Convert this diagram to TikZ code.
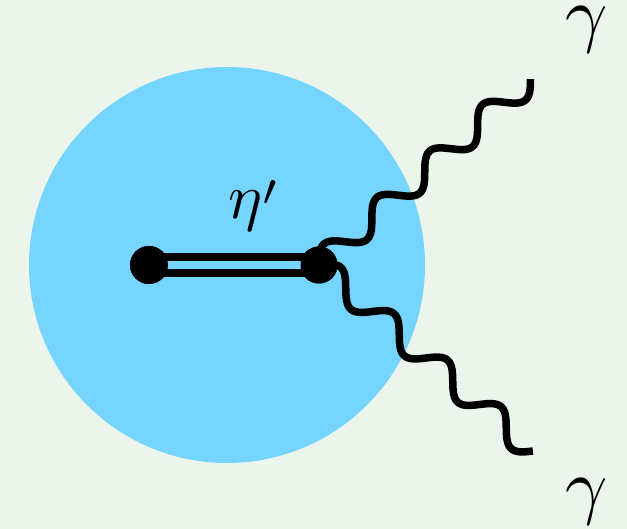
\documentclass[tikz,border=0pt]{standalone}
\usetikzlibrary{calc}
\definecolor{bgcol}{HTML}{EBF5EC}
\definecolor{blobcol}{HTML}{76D5FF}
\tikzset{
  photon/.style={line width=7.5pt},
  meson/.style={line width=8pt, double=blobcol, double distance=8.5pt},
  vertexdot/.style={circle, fill=black, inner sep=0pt, minimum size=#1},
  biglabel/.style={inner sep=0pt, scale=7.4},
  midlabel/.style={inner sep=0pt, scale=6.4}
}
\newcommand{\photonline}[2]{%
  \draw[photon] let \p1=(#1), \p2=(#2), \n1={veclen(\x2-\x1,\y2-\y1)} in
    plot[domain=0:1, samples=241, smooth, variable=\t]
    ({\x1+(\x2-\x1)*\t-12.5*sin(1440*\t)*(\y2-\y1)/\n1},
     {\y1+(\y2-\y1)*\t+12.5*sin(1440*\t)*(\x2-\x1)/\n1});}
\begin{document}
\begin{tikzpicture}[x=1pt,y=-1pt]
  \fill[bgcol] (0,0) rectangle (627,529);
  \useasboundingbox (0,0) rectangle (627,529);
  \fill[blobcol] (227,265) circle[radius=198];
  \node[vertexdot=38pt] (a) at (149,265) {};
  \node[vertexdot=37pt] (v) at (319,265) {};
  \coordinate (e1) at (530.5,79);
  \coordinate (e2) at (533,451);
  \photonline{v.center}{e1}
  \photonline{v.center}{e2}
  \draw[meson] (a.center) -- (v.center);
  \node[vertexdot=38pt] at (a) {};
  \node[vertexdot=37pt] at (v) {};
  \node[midlabel, anchor=base west] (eta) at (227,219) {$\eta\raisebox{2.1pt}{$\scriptstyle\prime$}$};
  \node[biglabel] (g1) at (587,30) {$\gamma$};
  \node[biglabel] (g2) at (587,502) {$\gamma$};
\end{tikzpicture}
\end{document}
